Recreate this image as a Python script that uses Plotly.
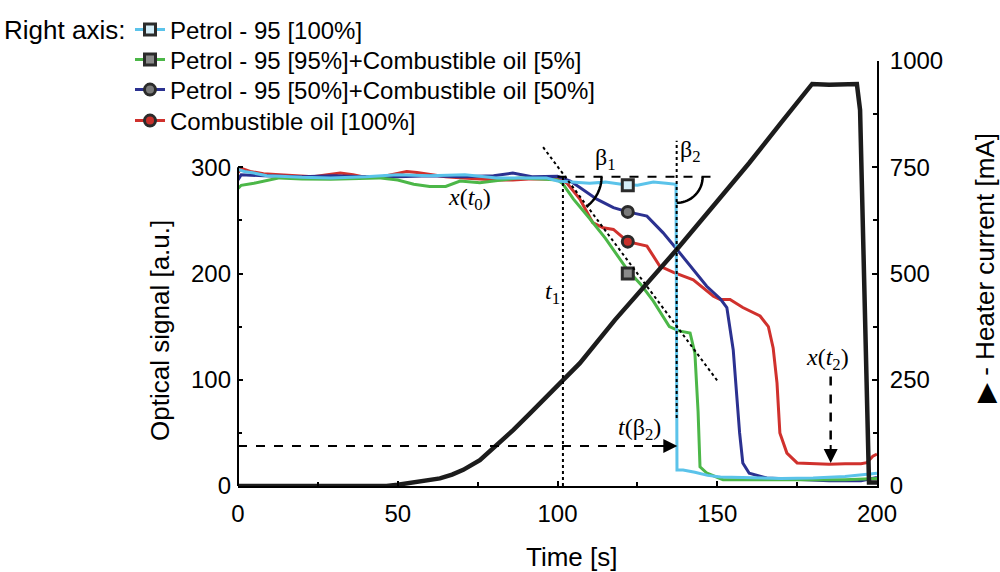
import numpy as np
import plotly.graph_objects as go

# ---- data (left axis: optical signal, right axis: heater current)
t_p100 = [0, 2, 5, 9, 13, 20, 29, 40, 50, 60, 71, 81, 90, 96.5, 100, 105, 110, 115, 120, 125, 130, 134, 137.1,
          137.4, 139.3, 143, 147, 151, 160, 170, 180, 190, 200]
y_p100 = [298, 296, 294.5, 292, 291.5, 290.5, 290, 291, 293, 292, 293, 290, 290, 290, 287, 286, 285, 286, 284, 283, 286,
          285, 284, 15, 15, 13, 10, 8.5, 7.5, 7, 7.5, 9, 12]

t_p95 = [0, 1, 5, 13, 20, 29, 44, 50, 55, 60, 65, 69.5, 75.7, 82, 88, 95, 100, 101.5, 105, 110, 115, 122, 126, 130,
         135, 138, 141.5, 143, 144, 144.6, 146.8, 151.8, 160, 170, 180, 190, 200]
y_p95 = [280, 283, 285, 290, 289, 288.7, 290, 288, 284, 282, 282, 287, 285.5, 288, 290, 289, 288, 285, 270, 252, 233,
         203, 190, 174, 150, 146, 144, 125, 70, 18, 12, 6, 6, 6, 6, 6, 7]

t_p50 = [0, 1, 8, 20, 30, 40, 50, 60, 70, 80, 86, 92, 100, 104, 107, 112.3, 117.5, 122, 128, 133, 137.4, 141.5,
         146.7, 151, 153, 155, 157, 158, 160, 165.5, 175, 185, 195, 200]
y_p50 = [288, 293, 292, 291, 292, 291, 291, 292, 291, 292, 294.5, 291, 291.5, 287, 281, 270, 262, 258, 254, 238.5,
         222.6, 207, 188, 176, 168, 128, 50, 21.7, 12, 7.5, 6, 5, 5, 8]

t_oil = [0, 1, 3.8, 8, 13, 18, 23.5, 28, 32, 36, 39, 45, 52.8, 56, 60, 65, 70.5, 75, 81, 86, 91, 96, 100, 103, 107,
         111, 114.3, 117.5, 122, 128, 132, 136.3, 142.5, 148.8, 150.9, 154, 158, 163.4, 166, 167.5, 168.7, 169.6,
         171.8, 175, 180, 185, 190, 195, 196.8, 198.7, 200]
y_oil = [295, 299, 296, 294, 293, 292, 291, 293, 294.5, 293, 291, 291, 296, 295, 293, 291, 290, 289, 288, 288, 289,
         289, 290, 285, 270, 248, 243, 241.5, 230, 225.8, 207, 201, 194, 178.6, 175.5, 175.5, 168, 160, 150, 130, 97,
         50, 31, 21.7, 21, 20.5, 21, 21, 22, 28, 30]

t_heat = [0, 46.5, 50, 54.9, 59, 63.2, 67, 70.5, 75.7, 80.4, 86.2, 91.4, 96.6, 101.8, 107, 118, 128, 137.4, 150,
          160, 170, 177, 179.7, 185, 190, 193.7, 194.7, 195.5, 196.5, 197.5, 200]
i_heat = [0, 0, 3, 8, 12, 18, 27, 38, 61, 92, 132, 171, 210, 249, 289, 391, 475, 557, 670,
          760, 855, 920, 946, 944, 946, 946, 885, 600, 250, 8, 8]

names = ["Petrol - 95 [100%]", "Petrol - 95 [95%]+Combustible oil [5%]",
         "Petrol - 95 [50%]+Combustible oil [50%]", "Combustible oil [100%]"]
colors = ["#5bc3ea", "#4cb748", "#2b3190", "#d0312d"]
mark_t = [122, 122, 122, 122]
mark_y = [283, 200, 258, 230]
mark_sym = ["square", "square", "circle", "circle"]
mark_fill = ["#d6eef8", "#8a8a8a", "#7a7a7a", "#c8302b"]
legend_rows = [30, 60, 90, 121]   # pixel row centres of the legend entries

SANS = "Liberation Sans, Arial, sans-serif"
SERIF = "Liberation Serif, Times New Roman, serif"

fig = go.Figure()
series = [(t_p100, y_p100), (t_p95, y_p95), (t_p50, y_p50), (t_oil, y_oil)]
# draw order: oil, 50/50, 95/5, then petrol on top
for k in [3, 2, 1, 0]:
    fig.add_trace(go.Scatter(x=series[k][0], y=series[k][1], mode="lines",
                             line=dict(color=colors[k], width=3), showlegend=False, hoverinfo="skip"))

legend_ids = ["legend", "legend2", "legend3", "legend4"]
for k in range(4):
    fig.add_trace(go.Scatter(x=[mark_t[k]], y=[mark_y[k]], mode="lines+markers", name=names[k],
                             legend=legend_ids[k],
                             line=dict(color=colors[k], width=3),
                             marker=dict(symbol=mark_sym[k], size=11, color=mark_fill[k],
                                         line=dict(color="#2b2b2b", width=3))))

fig.add_trace(go.Scatter(x=t_heat, y=i_heat, mode="lines", yaxis="y2",
                         line=dict(color="#1c1c1c", width=4.5), showlegend=False, hoverinfo="skip"))

# ---- helper lines / annotations
shapes = []
shapes.append(dict(type="line", xref="paper", yref="y", x0=0, x1=0, y0=0, y1=300,
                   line=dict(color="black", width=2)))
shapes.append(dict(type="line", xref="x", yref="y", x0=100, x1=148, y0=291, y1=291,
                   line=dict(color="black", width=2, dash="dash")))
shapes.append(dict(type="line", xref="x", yref="y", x0=101.7, x1=101.7, y0=0, y1=291,
                   line=dict(color="black", width=2, dash="dot")))
shapes.append(dict(type="line", xref="x", yref="y", x0=137.3, x1=137.3, y0=64, y1=325,
                   line=dict(color="black", width=2, dash="dot")))
shapes.append(dict(type="line", xref="x", yref="y", x0=95.5, x1=150.2, y0=318.9, y1=98.4,
                   line=dict(color="black", width=2, dash="dot")))
shapes.append(dict(type="line", xref="x", yref="y", x0=0, x1=133, y0=37.7, y1=37.7,
                   line=dict(color="black", width=2, dash="dash")))
shapes.append(dict(type="line", xref="x", yref="y", x0=185.5, x1=185.5, y0=103, y1=38,
                   line=dict(color="black", width=2.5, dash="dash")))

# angle arcs (radius given in screen pixels)
px_x = 639 / 200.0
px_y = 425 / 400.0


def arc(cx, cy, r, a1):
    a = np.radians(np.linspace(0, a1, 20))
    xs = cx + r * np.cos(a) / px_x
    ys = cy - r * np.sin(a) / px_y
    return "M " + " L ".join("%.3f,%.3f" % (x, y) for x, y in zip(xs, ys))


shapes.append(dict(type="path", xref="x", yref="y", path=arc(102.2, 291, 37, 53),
                   line=dict(color="black", width=2.5)))
shapes.append(dict(type="path", xref="x", yref="y", path=arc(137.3, 291, 26, 90),
                   line=dict(color="black", width=2.5)))

ann = []
ann.append(dict(x=137.5, y=37.7, ax=131, ay=37.7, xref="x", yref="y", axref="x", ayref="y", text="",
                showarrow=True, arrowhead=2, arrowsize=1.4, arrowwidth=2, arrowcolor="black"))
ann.append(dict(x=185.5, y=21.7, ax=185.5, ay=40, xref="x", yref="y", axref="x", ayref="y", text="",
                showarrow=True, arrowhead=2, arrowsize=1.4, arrowwidth=2, arrowcolor="black"))

serif = dict(family=SERIF, size=24, color="black")
for txt, x, y in [("β<sub>1</sub>", 114.9, 307.5), ("β<sub>2</sub>", 141.5, 315),
                  ("<i>t</i><sub>1</sub>", 98.3, 182), ("<i>x</i>(<i>t</i><sub>0</sub>)", 72.3, 270),
                  ("<i>t</i>(β<sub>2</sub>)", 125.8, 54), ("<i>x</i>(<i>t</i><sub>2</sub>)", 184.4, 120)]:
    ann.append(dict(x=x, y=y, xref="x", yref="y", text=txt, showarrow=False, font=serif,
                    xanchor="center", yanchor="middle"))

ann.append(dict(x=(160 - 238) / 639.0, y=146, xref="paper", yref="y", text="Optical signal [a.u.]",
                textangle=-90, showarrow=False, xanchor="center", yanchor="middle",
                font=dict(family=SANS, size=26, color="black")))
ann.append(dict(x=(985 - 238) / 639.0, y=(486 - 268) / 425.0, xref="paper", yref="paper",
                text="▶ - Heater current [mA]", textangle=-90, showarrow=False, xanchor="center",
                yanchor="middle", font=dict(family=SANS, size=26, color="black")))
ann.append(dict(x=(571 - 238) / 639.0, y=(486 - 557) / 425.0, xref="paper", yref="paper", text="Time [s]",
                showarrow=False, xanchor="center", yanchor="middle",
                font=dict(family=SANS, size=26, color="black")))
ann.append(dict(x=(127 - 238) / 639.0, y=(486 - 30) / 425.0, xref="paper", yref="paper", text="Right axis:",
                xanchor="right", yanchor="middle", showarrow=False, font=dict(family=SANS, size=26, color="black")))

tick_font = dict(family=SANS, size=24, color="black")
legends = {}
for k in range(4):
    legends[legend_ids[k]] = dict(x=(130 - 238) / 639.0, y=(486 - legend_rows[k]) / 425.0,
                                  xanchor="left", yanchor="middle",
                                  font=dict(family=SANS, size=24, color="black"),
                                  bgcolor="rgba(0,0,0,0)", itemwidth=30)

fig.update_layout(
    width=1000, height=572,
    margin=dict(l=238, r=123, t=61, b=86, autoexpand=False),
    paper_bgcolor="white", plot_bgcolor="white",
    font=dict(family=SANS, color="black"),
    shapes=shapes, annotations=ann,
    xaxis=dict(range=[0, 200], tickvals=[0, 50, 100, 150, 200], showgrid=False, zeroline=False,
               showline=True, linecolor="black", linewidth=2, ticks="inside", ticklen=5, tickwidth=1.5,
               tickcolor="black", tickfont=tick_font, ticklabelstandoff=5, automargin=False,
               minor=dict(tickvals=[25, 75, 125, 175], ticks="inside", ticklen=4, tickcolor="black", tickwidth=1.5)),
    yaxis=dict(range=[0, 400], tickvals=[0, 100, 200, 300], showgrid=False, zeroline=False, showline=False,
               ticks="inside", ticklen=5, tickwidth=1.5, tickcolor="black", tickfont=tick_font,
               ticklabelstandoff=6, automargin=False,
               minor=dict(tickvals=[50, 150, 250], ticks="inside", ticklen=4, tickcolor="black", tickwidth=1.5)),
    yaxis2=dict(range=[0, 1000], overlaying="y", side="right", tickvals=[0, 250, 500, 750, 1000],
                showgrid=False, zeroline=False, showline=True, linecolor="black", linewidth=2,
                ticks="inside", ticklen=5, tickwidth=1.5, tickcolor="black", tickfont=tick_font,
                ticklabelstandoff=6, automargin=False,
                minor=dict(tickvals=[125, 375, 625, 875], ticks="inside", ticklen=4, tickcolor="black",
                           tickwidth=1.5)),
    **legends
)

fig.write_html("out.html", config={"displayModeBar": False},
               post_script="document.body.style.margin='0';document.body.style.overflow='hidden';")
